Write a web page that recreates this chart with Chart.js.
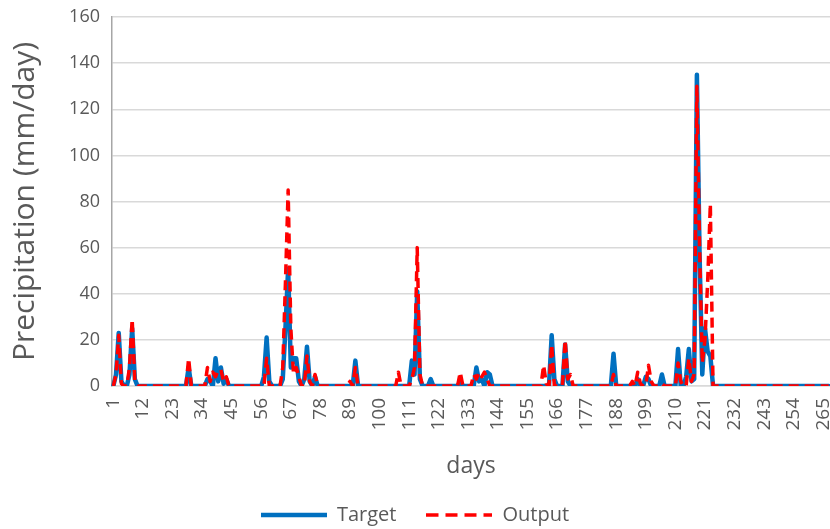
<!DOCTYPE html>
<html>
<head>
<meta charset="utf-8">
<script src="https://cdn.jsdelivr.net/npm/chart.js@4.4.1/dist/chart.umd.min.js"></script>
<style>
  html, body { margin: 0; padding: 0; background: #fff; overflow: hidden; }
</style>
</head>
<body>
<canvas id="chart" width="830" height="529"></canvas>
<script>
// days shown on the category axis, one label every 11 days
const dayCount = 267;
const labelEvery = 11;
const dayLabels = Array.from({ length: dayCount }, (_, i) => String(i + 1));

// [day, mm/day]; every other day is 0
const targetPeaks = [
  [2, 5], [3, 23], [4, 2], [7, 5], [8, 25], [9, 3],
  [29, 8], [36, 3], [37, 2], [39, 12], [40, 2], [41, 8], [42, 1], [43, 3],
  [57, 4], [58, 21], [59, 2],
  [64, 3], [65, 25], [66, 51], [67, 8], [68, 12], [69, 12], [70, 2], [72, 3], [73, 17], [74, 2], [76, 4],
  [91, 11],
  [112, 11], [113, 5], [114, 41], [115, 3], [119, 3],
  [130, 2], [136, 8], [137, 2], [138, 3], [140, 6], [141, 5],
  [164, 22], [165, 3], [169, 18], [170, 2],
  [187, 14], [194, 1], [196, 3], [199, 4], [200, 3], [205, 5],
  [211, 16], [214, 4], [215, 16], [216, 2],
  [217, 3], [218, 135], [219, 57], [220, 5], [221, 25], [222, 15], [223, 13]
];
const outputPeaks = [
  [2, 5], [3, 22], [4, 1], [7, 8], [8, 29], [9, 2],
  [29, 12], [36, 8], [37, 2], [38, 6], [39, 4], [40, 7], [41, 7], [42, 2], [43, 4],
  [58, 12],
  [64, 8], [65, 45], [66, 85], [67, 25], [68, 5], [69, 8], [70, 4], [73, 13], [74, 2], [76, 5],
  [89, 2], [91, 8],
  [107, 6], [112, 3], [113, 8], [114, 60], [115, 5],
  [130, 6], [135, 5], [136, 3], [137, 6], [138, 4], [139, 6], [140, 3],
  [161, 9], [162, 1], [164, 18], [169, 20], [170, 3], [171, 5],
  [187, 5], [194, 2], [196, 6], [197, 1], [200, 9], [201, 2], [205, 1],
  [211, 10], [212, 2], [215, 12], [216, 2],
  [217, 5], [218, 130], [219, 60], [220, 10], [221, 20], [222, 45], [223, 79]
];

const yTicks = [0, 20, 40, 60, 80, 100, 120, 140, 160];

function toSeries(peaks) {
  const values = new Array(dayCount).fill(0);
  peaks.forEach(([day, v]) => { values[day - 1] = v; });
  return values;
}

// little line samples for the legend (the built-in 'line' style ignores dashes)
function legendLine(color, width, dash) {
  const c = document.createElement("canvas");
  c.width = 66;
  c.height = 8;
  const ctx = c.getContext("2d");
  ctx.strokeStyle = color;
  ctx.lineWidth = width;
  ctx.setLineDash(dash);
  ctx.beginPath();
  ctx.moveTo(0, 4);
  ctx.lineTo(66, 4);
  ctx.stroke();
  return c;
}

Chart.defaults.font.family = "'Open Sans', sans-serif";
Chart.defaults.color = "#595959";

new Chart(document.getElementById("chart"), {
  type: "line",
  data: {
    labels: dayLabels,
    datasets: [
      {
        label: "Target",
        data: toSeries(targetPeaks),
        borderColor: "#0070C0",
        backgroundColor: "#0070C0",
        borderWidth: 4.5,
        borderJoinStyle: "round",
        borderCapStyle: "round",
        pointRadius: 0,
        pointStyle: legendLine("#0070C0", 4.5, []),
        tension: 0,
        order: 2
      },
      {
        label: "Output",
        data: toSeries(outputPeaks),
        borderColor: "#FF0000",
        backgroundColor: "#FF0000",
        borderWidth: 3.5,
        borderDash: [10, 6],
        borderJoinStyle: "round",
        pointRadius: 0,
        pointStyle: legendLine("#FF0000", 3.5, [12, 7]),
        tension: 0,
        order: 1
      }
    ]
  },
  options: {
    responsive: false,
    animation: false,
    layout: { padding: { top: 17, right: 0, left: 0, bottom: -6 } },
    plugins: {
      tooltip: { enabled: false },
      legend: {
        position: "bottom",
        labels: {
          usePointStyle: true,
          pointStyleWidth: 66,
          font: { size: 20 },
          padding: 30,
          sort: (a, b) => a.datasetIndex - b.datasetIndex
        }
      }
    },
    scales: {
      x: {
        offset: true,
        grid: { display: false },
        border: { color: "#d9d9d9", width: 1.5 },
        ticks: {
          autoSkip: false,
          minRotation: 90,
          maxRotation: 90,
          font: { size: 19 },
          padding: 4,
          callback: (val, i) => (i % labelEvery === 0 ? dayLabels[i] : null)
        },
        title: { display: true, text: "days", font: { size: 23 }, padding: { top: 0, bottom: -5 } },
        afterFit: (scale) => {
          scale.paddingRight = 0;
          scale.paddingLeft = 0;
          scale.height = 89;
        }
      },
      y: {
        min: 0,
        max: 160,
        afterBuildTicks: (scale) => { scale.ticks = yTicks.map(v => ({ value: v })); },
        grid: { color: "#d9d9d9", lineWidth: 1.5, drawTicks: false },
        border: { color: "#a6a6a6", width: 1.5 },
        ticks: { font: { size: 18 }, padding: 12 },
        title: { display: true, text: "Precipitation (mm/day)", font: { size: 30 }, padding: { top: 7, bottom: 0 } },
        afterFit: (scale) => {
          scale.width = 112;
          scale.paddingTop = 0;
          scale.paddingBottom = 0;
        }
      }
    }
  }
});
</script>
</body>
</html>
